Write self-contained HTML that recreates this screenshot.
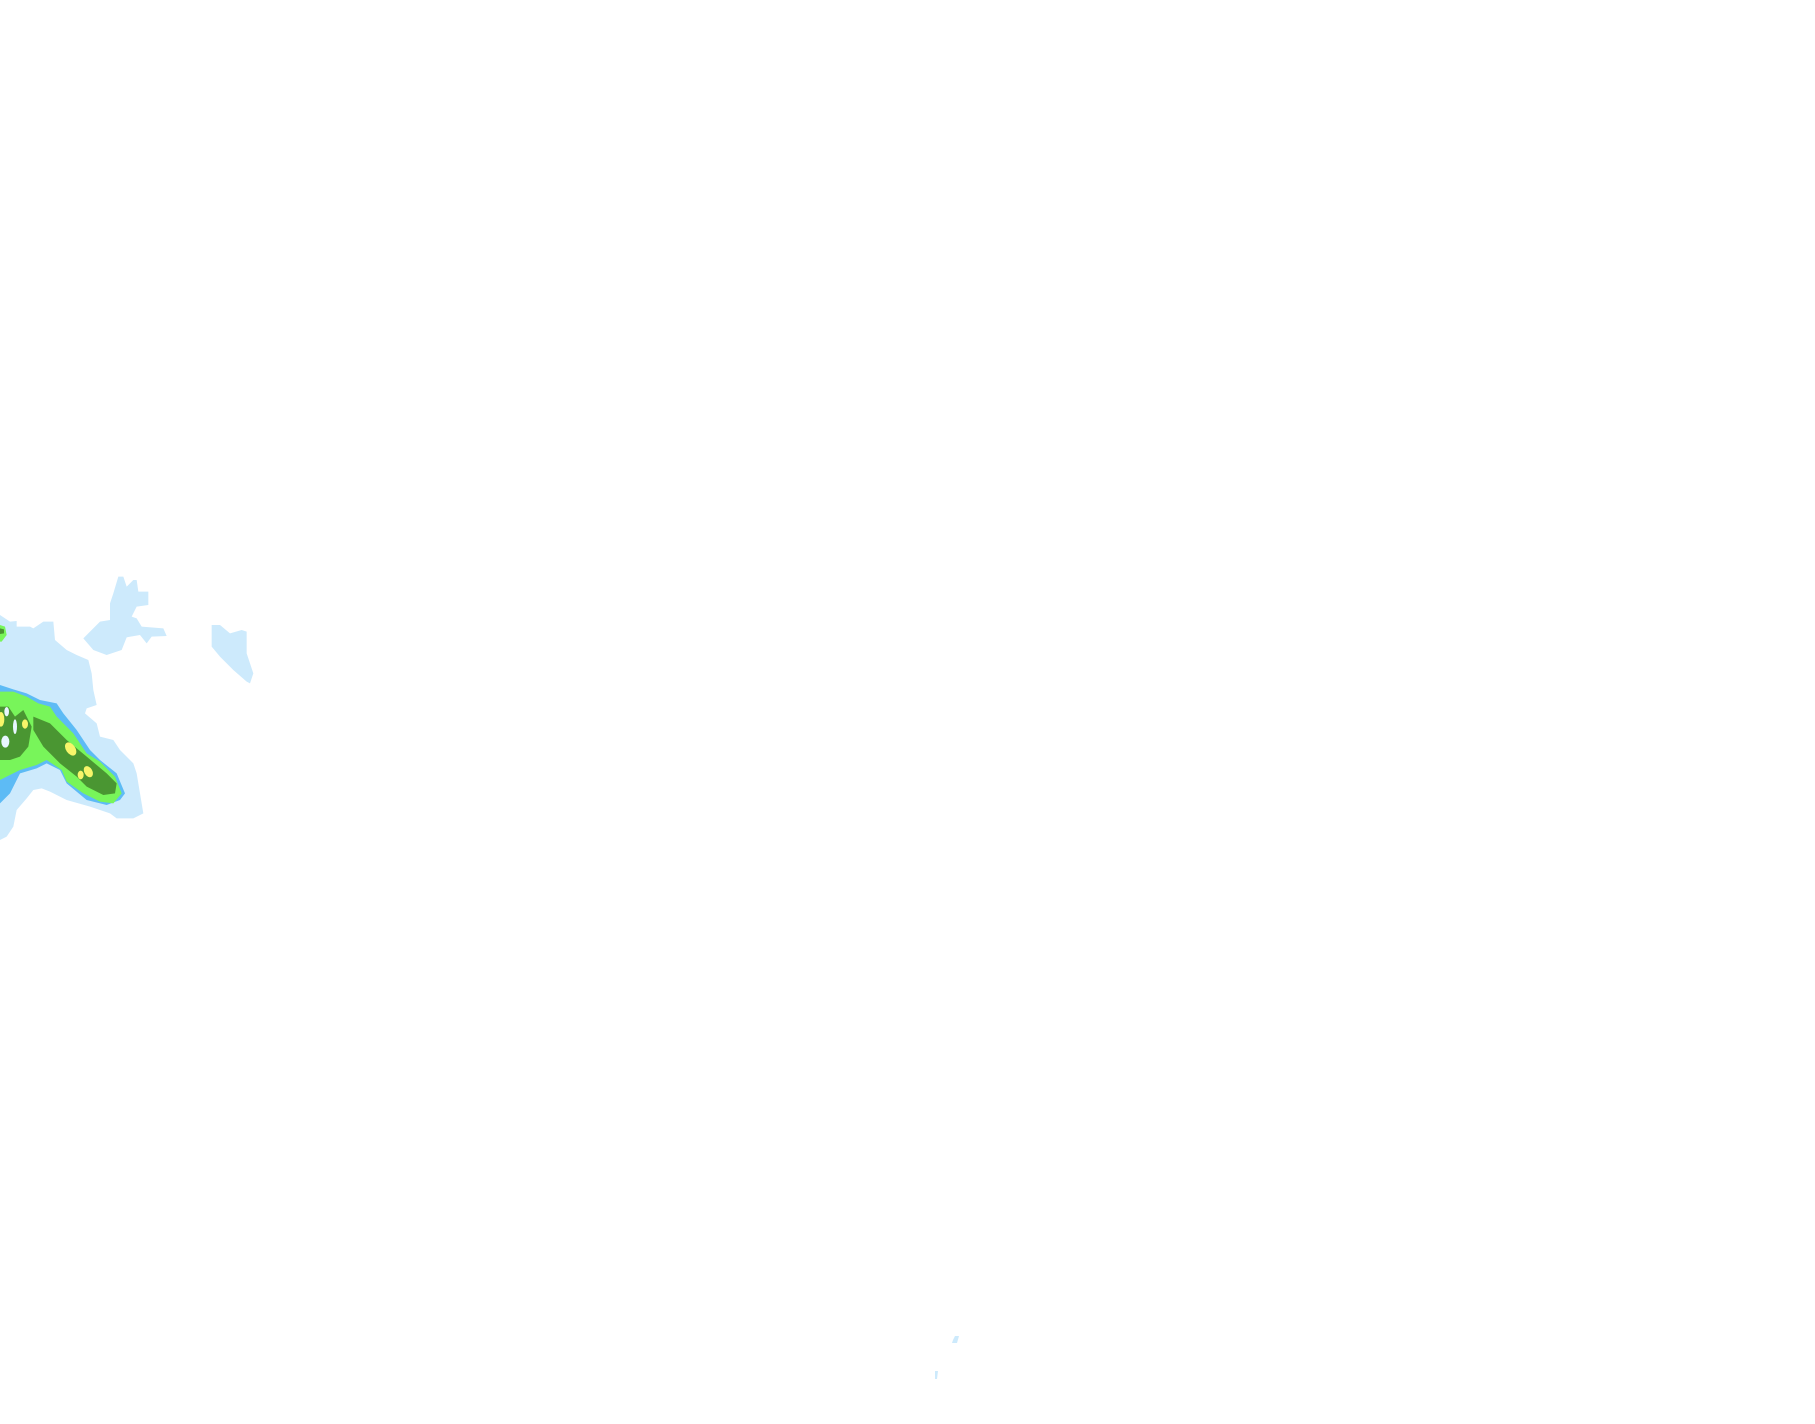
<!DOCTYPE html>
<html><head><meta charset="utf-8"><style>html,body{margin:0;padding:0;background:#fff}svg{display:block}</style></head>
<body>
<svg width="1815" height="1424" viewBox="0 0 1815 1424" xmlns="http://www.w3.org/2000/svg">
<g transform="translate(0,560) scale(0.33333)">
<polygon fill="#cdeafc" points="0,165 30,185 50,183 50,200 90,200 100,205 130,185 160,185 165,240 200,270 230,285 265,300 275,340 280,390 290,435 260,445 255,460 290,490 300,530 340,540 360,570 400,610 410,640 420,700 430,760 400,775 350,775 330,760 270,740 200,720 150,695 125,685 100,690 80,715 50,750 40,800 20,830 0,840"/>
<polygon fill="#cdeafc" points="250,235 300,185 330,180 330,130 340,100 355,50 370,50 380,80 400,60 410,60 415,95 445,95 445,135 410,140 395,170 410,175 425,200 490,205 500,228 455,230 440,250 420,225 380,232 365,270 320,285 280,270"/>
<polygon fill="#cdeafc" points="635,195 660,195 690,220 725,210 740,215 740,280 760,340 750,370 740,365 700,330 660,290 635,260"/>
<polygon fill="#5dbbf5" points="0,375 40,388 80,400 120,420 170,430 190,460 230,510 270,570 300,600 350,640 375,700 360,720 320,735 260,720 200,670 180,630 140,610 110,625 60,640 30,700 0,730"/>
<polygon fill="#78f55a" points="0,395 40,395 80,410 115,430 150,440 170,470 220,520 260,580 300,605 345,650 365,700 340,730 300,725 250,700 200,665 185,630 140,600 110,615 60,630 20,650 0,660"/>
<polygon fill="#4a9632" points="100,470 150,490 200,540 260,590 320,640 350,670 345,700 310,705 260,680 230,650 180,610 130,560 100,510"/>
<polygon fill="#4a9632" points="0,440 25,440 45,470 70,450 95,500 85,560 60,590 30,600 0,600"/>
<polygon fill="#78f55a" points="0,195 15,200 20,225 5,245 0,245"/>
<polygon fill="#4a9632" points="0,205 12,208 12,220 0,222"/>
<ellipse cx="212" cy="567" rx="14" ry="22" transform="rotate(-35 212 567)" fill="#f7f56a"/>
<ellipse cx="265" cy="635" rx="12" ry="18" transform="rotate(-30 265 635)" fill="#f7f56a"/>
<ellipse cx="242" cy="645" rx="9" ry="13" fill="#f7f56a"/>
<ellipse cx="75" cy="492" rx="9" ry="14" fill="#f7f56a"/>
<ellipse cx="3" cy="478" rx="10" ry="22" fill="#f7f56a"/>
<ellipse cx="16" cy="545" rx="12" ry="18" fill="#e8f6ff"/>
<ellipse cx="45" cy="500" rx="6" ry="22" fill="#e8f6ff"/>
<ellipse cx="20" cy="455" rx="7" ry="14" fill="#e8f6ff"/>
</g>
<polygon fill="#cdeafc" points="955,1336 959,1336 957,1343 952,1343 953,1340"/>
<polygon fill="#cdeafc" points="935,1371 938,1371 937,1379 935,1379"/>
</svg>
</body></html>
